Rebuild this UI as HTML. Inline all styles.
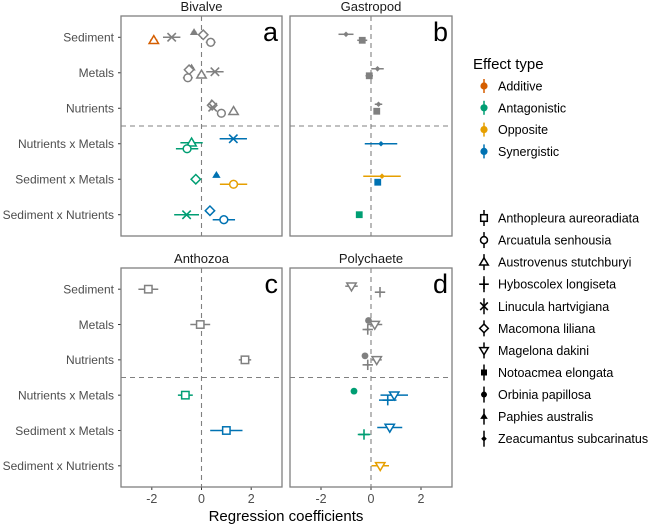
<!DOCTYPE html>
<html><head><meta charset="utf-8">
<style>
body{margin:0;background:#fff;}
svg{display:block;font-family:"Liberation Sans",sans-serif;}
</style></head>
<body>
<svg id="chart" width="660" height="527" viewBox="0 0 660 527"></svg>
<script>
const rows = ["Sediment","Metals","Nutrients","Nutrients x Metals","Sediment x Metals","Sediment x Nutrients"];
const xTicks = [-2,0,2];
const panelNames = ["Bivalve","Gastropod","Anthozoa","Polychaete"];
const panelLetters = ["a","b","c","d"];
const effectTypes = ["Additive","Antagonistic","Opposite","Synergistic"];
const effectColors = {Additive:"#D55E00",Antagonistic:"#009E73",Opposite:"#E69F00",Synergistic:"#0072B2",none:"#808080"};
const species = ["Anthopleura aureoradiata","Arcuatula senhousia","Austrovenus stutchburyi","Hyboscolex longiseta","Linucula hartvigiana","Macomona liliana","Magelona dakini","Notoacmea elongata","Orbinia papillosa","Paphies australis","Zeacumantus subcarinatus"];
const speciesShape = ["sqo","cio","tro","plus","x","dio","tdo","sqf","cif","trf","dif"];
// points: [panel, row, species index, estimate, errHalf, effect, dodge(px)]
const points = [
 [0,0,2,-1.92,0.15,"Additive",3],[0,0,4,-1.2,0.35,"none",0],[0,0,9,-0.3,0.1,"none",-5],[0,0,5,0.07,0.1,"none",-2.5],[0,0,1,0.37,0.2,"none",5],
 [0,1,9,-0.4,0.1,"none",-5],[0,1,5,-0.5,0.1,"none",-3],[0,1,1,-0.55,0.2,"none",5],[0,1,2,0,0.15,"none",2],[0,1,4,0.54,0.35,"none",-1],
 [0,2,9,0.4,0.1,"none",-5],[0,2,5,0.43,0.1,"none",-3],[0,2,4,0.45,0.1,"none",-1],[0,2,1,0.8,0.15,"none",5],[0,2,2,1.29,0.1,"none",3],
 [0,3,4,1.28,0.55,"Synergistic",-5],[0,3,2,-0.4,0.45,"Antagonistic",-1],[0,3,1,-0.58,0.45,"Antagonistic",5],
 [0,4,9,0.6,0.1,"Synergistic",-4],[0,4,5,-0.23,0.1,"Antagonistic",0],[0,4,1,1.29,0.55,"Opposite",5],
 [0,5,5,0.34,0.1,"Synergistic",-4],[0,5,4,-0.6,0.5,"Antagonistic",0],[0,5,1,0.9,0.45,"Synergistic",5],
 [1,0,10,-1.0,0.3,"none",-3],[1,0,7,-0.35,0.2,"none",3],
 [1,1,10,0.26,0.25,"none",-4],[1,1,7,-0.07,0.15,"none",3],
 [1,2,10,0.3,0.15,"none",-4],[1,2,7,0.23,0.1,"none",3],
 [1,3,10,0.4,0.65,"Synergistic",0],
 [1,4,10,0.44,0.75,"Opposite",-3],[1,4,7,0.27,0.1,"Synergistic",3],
 [1,5,7,-0.47,0.1,"Antagonistic",0],
 [2,0,0,-2.14,0.4,"none",0],[2,1,0,-0.05,0.4,"none",0],[2,2,0,1.75,0.25,"none",0],
 [2,3,0,-0.65,0.3,"Antagonistic",0],[2,4,0,1.0,0.65,"Synergistic",0],
 [3,0,6,-0.78,0.25,"none",-3],[3,0,3,0.36,0.1,"none",3],
 [3,1,8,-0.1,0.1,"none",-4],[3,1,6,0.15,0.3,"none",0],[3,1,3,-0.13,0.1,"none",5],
 [3,2,8,-0.24,0.05,"none",-4],[3,2,6,0.23,0.2,"none",0],[3,2,3,-0.13,0.1,"none",5],
 [3,3,8,-0.68,0.05,"Antagonistic",-4],[3,3,6,0.93,0.55,"Synergistic",0],[3,3,3,0.67,0.35,"Synergistic",5],
 [3,4,6,0.75,0.5,"Synergistic",-3],[3,4,3,-0.28,0.25,"Antagonistic",4],
 [3,5,6,0.37,0.35,"Opposite",0]
];
const NS="http://www.w3.org/2000/svg";
const svg=document.getElementById("chart");
function el(t,a,p){const e=document.createElementNS(NS,t);for(const k in a)e.setAttribute(k,a[k]);(p||svg).appendChild(e);return e;}
const panels=[{x0:121,x1:282,y0:16,y1:236},{x0:290,x1:452,y0:16,y1:236},{x0:121,x1:282,y0:268,y1:487},{x0:290,x1:452,y0:268,y1:487}];
const xMin=-3.24, xMax=3.24;
function xs(p,v){return p.x0+(v-xMin)/(xMax-xMin)*(p.x1-p.x0);}
function ys(p,r){const step=(p.y1-p.y0)/6.2;return p.y0+step*(0.6+r);}
function shape(g,kind,cx,cy,col,s){
 s=s||4.2;
 if(kind==="sqo")el("rect",{x:cx-s+0.5,y:cy-s+0.5,width:2*s-1,height:2*s-1,fill:"#fff",stroke:col,"stroke-width":1.5},g);
 else if(kind==="cio")el("circle",{cx:cx,cy:cy,r:s-0.3,fill:"#fff",stroke:col,"stroke-width":1.5},g);
 else if(kind==="tro")el("polygon",{points:`${cx},${cy-s-0.5} ${cx+s+0.5},${cy+s-1} ${cx-s-0.5},${cy+s-1}`,fill:"#fff",stroke:col,"stroke-width":1.5},g);
 else if(kind==="tdo")el("polygon",{points:`${cx},${cy+s+0.5} ${cx+s+0.5},${cy-s+1} ${cx-s-0.5},${cy-s+1}`,fill:"#fff",stroke:col,"stroke-width":1.5},g);
 else if(kind==="dio")el("polygon",{points:`${cx},${cy-s-0.5} ${cx+s+0.5},${cy} ${cx},${cy+s+0.5} ${cx-s-0.5},${cy}`,fill:"#fff",stroke:col,"stroke-width":1.5},g);
 else if(kind==="plus"){el("line",{x1:cx-s-1,y1:cy,x2:cx+s+1,y2:cy,stroke:col,"stroke-width":1.6},g);el("line",{x1:cx,y1:cy-s-1,x2:cx,y2:cy+s+1,stroke:col,"stroke-width":1.6},g);}
 else if(kind==="x"){el("line",{x1:cx-s,y1:cy-s,x2:cx+s,y2:cy+s,stroke:col,"stroke-width":1.6},g);el("line",{x1:cx-s,y1:cy+s,x2:cx+s,y2:cy-s,stroke:col,"stroke-width":1.6},g);}
 else if(kind==="sqf")el("rect",{x:cx-s+0.8,y:cy-s+0.8,width:2*s-1.6,height:2*s-1.6,fill:col},g);
 else if(kind==="cif")el("circle",{cx:cx,cy:cy,r:s-0.8,fill:col},g);
 else if(kind==="trf")el("polygon",{points:`${cx},${cy-s} ${cx+s},${cy+s-1.5} ${cx-s},${cy+s-1.5}`,fill:col},g);
 else if(kind==="dif")el("polygon",{points:`${cx},${cy-2.8} ${cx+2.8},${cy} ${cx},${cy+2.8} ${cx-2.8},${cy}`,fill:col},g);
}
panels.forEach((p,i)=>{
 const g=el("g",{});
 
 
 const strip=el("text",{x:(p.x0+p.x1)/2,y:p.y0-5,"text-anchor":"middle","font-size":13,fill:"#1a1a1a"},g);
 strip.textContent=panelNames[i];
 
 
 const z=xs(p,0);
 el("line",{x1:z,y1:p.y0,x2:z,y2:p.y1,stroke:"#808080","stroke-dasharray":"5,4","stroke-width":1.1},g);
 const hy=(ys(p,2)+ys(p,3))/2;
 el("line",{x1:p.x0,y1:hy,x2:p.x1,y2:hy,stroke:"#808080","stroke-dasharray":"5,4","stroke-width":1.1},g);
 const lt=el("text",{x:p.x1-4,y:p.y0+25,"text-anchor":"end","font-size":27,fill:"#000"},g);
 lt.textContent=panelLetters[i];
 
 
 if(i%2===0){rows.forEach((r,k)=>{
   const y=ys(p,k);
   el("line",{x1:p.x0-3,y1:y,x2:p.x0,y2:y,stroke:"#333"},g);
   const t=el("text",{x:p.x0-7,y:y+4.3,"text-anchor":"end","font-size":12,fill:"#4d4d4d"},g);
   t.textContent=r;
   
   
 });}
 if(i>=2){xTicks.forEach(v=>{
   const x=xs(p,v);
   el("line",{x1:x,y1:p.y1,x2:x,y2:p.y1+3,stroke:"#333"},g);
   const t=el("text",{x:x,y:p.y1+16,"text-anchor":"middle","font-size":12.5,fill:"#4d4d4d"},g);
   t.textContent=v<0?"-"+Math.abs(v):String(v);
   
   
 });}
 points.filter(q=>q[0]===i).forEach(q=>{
   const col=effectColors[q[5]];
   const y=ys(p,q[1])+q[6];
   const pg=el("g",{},g);
   
   
   el("line",{x1:xs(p,q[3]-q[4]),y1:y,x2:xs(p,q[3]+q[4]),y2:y,stroke:col,"stroke-width":1.5},pg);
   shape(pg,speciesShape[q[2]],xs(p,q[3]),y,col);
 });
 el("rect",{x:p.x0,y:p.y0,width:p.x1-p.x0,height:p.y1-p.y0,fill:"none",stroke:"#808080","stroke-width":1.3},g);
});
const xt=el("text",{x:286,y:521,"text-anchor":"middle","font-size":15,fill:"#000"});
xt.textContent="Regression coefficients";


const lg=el("g",{});


const lt1=el("text",{x:473,y:69,"font-size":15,fill:"#000"},lg);
lt1.textContent="Effect type";
effectTypes.forEach((e,k)=>{
 const y=86+k*21.8;
 const it=el("g",{},lg);
 
 
 el("line",{x1:484,y1:y-7,x2:484,y2:y+7,stroke:effectColors[e],"stroke-width":1.5},it);
 el("circle",{cx:484,cy:y,r:3.6,fill:effectColors[e]},it);
 const t=el("text",{x:498,y:y+4.5,"font-size":12.5,fill:"#000"},it);
 t.textContent=e;
});
species.forEach((s,k)=>{
 const y=218+k*22.07;
 const it=el("g",{},lg);
 
 
 el("line",{x1:484,y1:y-8,x2:484,y2:y+8,stroke:"#000","stroke-width":1.5},it);
 shape(it,speciesShape[k],484,y,"#000",3.8);
 const t=el("text",{x:498,y:y+4.5,"font-size":12.5,fill:"#000"},it);
 t.textContent=s;
});
</script>
</body></html>
